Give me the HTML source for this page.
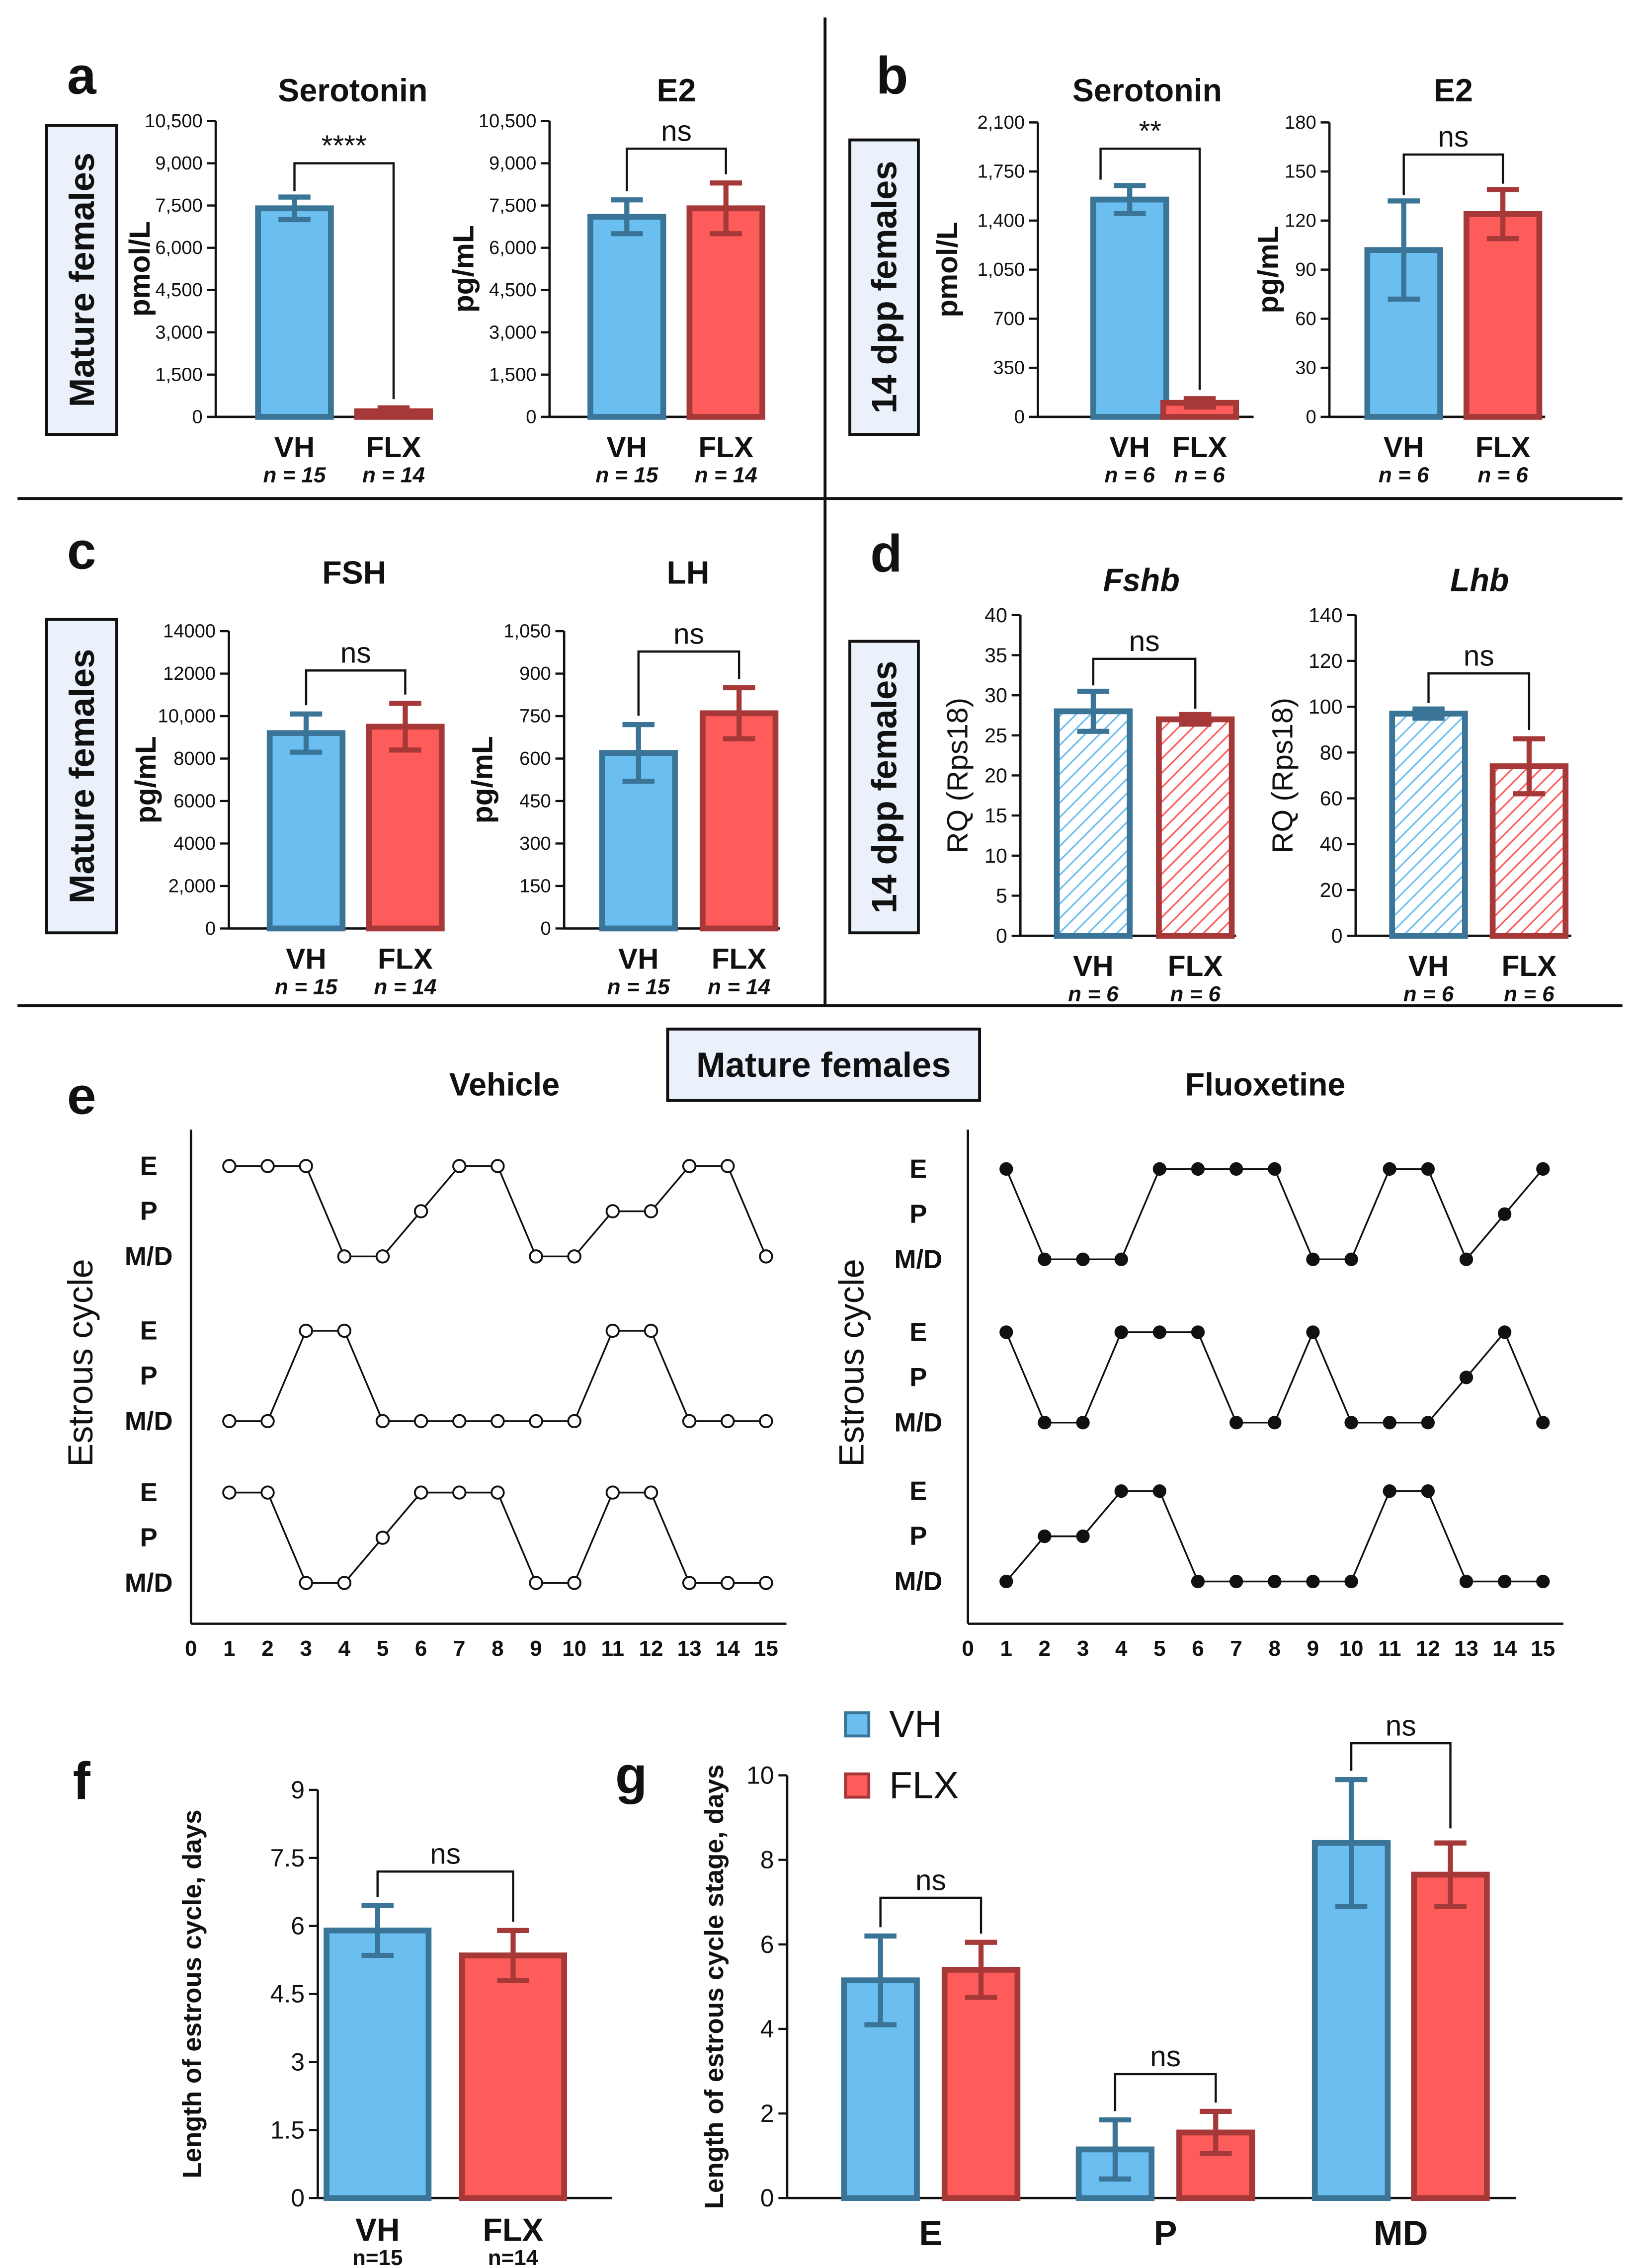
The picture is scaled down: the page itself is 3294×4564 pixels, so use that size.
<!DOCTYPE html>
<html><head><meta charset="utf-8"><style>
html,body{margin:0;padding:0;background:#fff}
svg{display:block}
text{font-family:"Liberation Sans",sans-serif}
</style></head><body>
<svg id="fig" width="3294" height="4564" viewBox="0 0 1123 1556" xmlns="http://www.w3.org/2000/svg">
<defs>
<pattern id="hatchB" patternUnits="userSpaceOnUse" width="7" height="7" patternTransform="rotate(45)"><rect width="7" height="7" fill="#fff"/><line x1="0" y1="0" x2="0" y2="7" stroke="#6bbff0" stroke-width="2.2"/></pattern>
<pattern id="hatchR" patternUnits="userSpaceOnUse" width="7" height="7" patternTransform="rotate(45)"><rect width="7" height="7" fill="#fff"/><line x1="0" y1="0" x2="0" y2="7" stroke="#fe5b5b" stroke-width="2.2"/></pattern>
</defs>
<g id="root"></g>
</svg>
<script>
// ---- data ----
const groups2 = ["VH","FLX"];
const serotoninA = [7400, 200];   const serotoninAErr = [400, 120];
const e2A = [7100, 7400];         const e2AErr = [600, 900];
const serotoninB = [1550, 100];   const serotoninBErr = [100, 30];
const e2B = [102, 124];           const e2BErr = [30, 15];
const fsh = [9200, 9500];         const fshErr = [900, 1100];
const lh = [620, 760];            const lhErr = [100, 90];
const fshb = [28, 27];            const fshbErr = [2.5, 0.6];
const lhb = [97, 74];             const lhbErr = [2, 12];
const cycleLen = [5.9, 5.35];     const cycleLenErr = [0.55, 0.55];
const stageCats = ["E","P","MD"];
const stageVH = [5.15, 1.15, 8.4];   const stageVHErr = [1.05, 0.7, 1.5];
const stageFLX = [5.4, 1.55, 7.65];  const stageFLXErr = [0.65, 0.5, 0.75];
const ticksA = ["0","1,500","3,000","4,500","6,000","7,500","9,000","10,500"];
const ticksBS = ["0","350","700","1,050","1,400","1,750","2,100"];
const ticksBE = ["0","30","60","90","120","150","180"];
const ticksFSH = ["0","2,000","4000","6000","8000","10,000","12000","14000"];
const ticksLH = ["0","150","300","450","600","750","900","1,050"];
const ticksFshb = ["0","5","10","15","20","25","30","35","40"];
const ticksLhb = ["0","20","40","60","80","100","120","140"];
const ticksF = ["0","1.5","3","4.5","6","7.5","9"];
const ticksG = ["0","2","4","6","8","10"];
const days = [1,2,3,4,5,6,7,8,9,10,11,12,13,14,15];
const stageNames = ["M/D","P","E"]; // stage index 0,1,2
const veh1 = [2,2,2,0,0,1,2,2,0,0,1,1,2,2,0];
const veh2 = [0,0,2,2,0,0,0,0,0,0,2,2,0,0,0];
const veh3 = [2,2,0,0,1,2,2,2,0,0,2,2,0,0,0];
const flx1 = [2,0,0,0,2,2,2,2,0,0,2,2,0,1,2];
const flx2 = [2,0,0,2,2,2,0,0,2,0,0,0,1,2,0];
const flx3 = [0,1,1,2,2,0,0,0,0,0,2,2,0,0,0];

// ---- helpers ----
const NS="http://www.w3.org/2000/svg";
const root=document.getElementById('root');
function el(tag,attrs,parent){const e=document.createElementNS(NS,tag);for(const k in attrs)e.setAttribute(k,attrs[k]);(parent||root).appendChild(e);return e;}
function txt(x,y,s,size,opts,parent){opts=opts||{};const t=el('text',{x:x,y:y,'font-size':size,'text-anchor':opts.anchor||'middle','font-weight':opts.weight||'bold','font-style':opts.style||'normal',fill:'#111','dominant-baseline':'central'},parent);if(opts.rot)t.setAttribute('transform','rotate(-90 '+x+' '+y+')');t.textContent=s;return t;}
const BLUE='#6bbff0',BLUED='#3a7597',RED='#fe5b5b',REDD='#a63838';

function chart(cfg){
  const g=el('g',{});
  
  
  const n=cfg.ticks.length-1;
  const ys=v=>cfg.yBot-(v/cfg.max)*(cfg.yBot-cfg.yTop);
  const ax=el('line',{x1:cfg.ax,y1:cfg.yTop,x2:cfg.ax,y2:cfg.yBot,stroke:'#111','stroke-width':1.6},g);
  
  
  const xa=el('line',{x1:cfg.ax,y1:cfg.yBot,x2:cfg.xEnd,y2:cfg.yBot,stroke:'#111','stroke-width':1.6},g);
  
  
  cfg.ticks.forEach((t,i)=>{const v=cfg.max*i/n;const y=ys(v);
    el('line',{x1:cfg.ax-6,y1:y,x2:cfg.ax,y2:y,stroke:'#111','stroke-width':1.5},g);
    const tl=txt(cfg.ax-9,y,t,cfg.tickSize||14,{anchor:'end',weight:'normal'},g);
    
    });
  if(cfg.ylabel){const yl=txt(cfg.ylx,(cfg.yTop+cfg.yBot)/2,cfg.ylabel,cfg.ylSize||20,{rot:1,weight:cfg.ylWeight||'bold'},g);
    
    }
  if(cfg.title){const tt=txt(cfg.titleX,cfg.titleY,cfg.title,22,{style:cfg.titleStyle||'normal'},g);
    
    }
  const tops=[];
  cfg.bars.forEach(b=>{
    const y=ys(b.val);const w=cfg.bw;
    const fill=cfg.hatch?(b.red?'url(#hatchR)':'url(#hatchB)'):(b.red?RED:BLUE);
    const r=el('rect',{x:b.cx-w/2,y:y,width:w,height:cfg.yBot-y,fill:fill,stroke:b.red?REDD:BLUED,'stroke-width':4},g);
    
    
    const y1=ys(b.val+b.err),y2=ys(Math.max(0,b.val-b.err));
    const c=b.red?REDD:BLUED;
    el('line',{x1:b.cx,y1:y1,x2:b.cx,y2:y2,stroke:c,'stroke-width':3.5},g);
    el('line',{x1:b.cx-11,y1:y1,x2:b.cx+11,y2:y1,stroke:c,'stroke-width':3.5},g);
    el('line',{x1:b.cx-11,y1:y2,x2:b.cx+11,y2:y2,stroke:c,'stroke-width':3.5},g);
    tops.push(y1);
    if(b.xl){const xl=txt(b.cx,cfg.xlY,b.xl,cfg.xlSize||20,{},g);
      
      }
    if(b.nl){const nl=txt(b.cx,cfg.xlY+19,b.nl,15,{style:cfg.nItalic===false?'normal':'italic'},g);
      
      }
  });
  return {g,ys,tops};
}
function bracket(x1,yb1,x2,yb2,yt,label,sz){
  const p=el('path',{d:`M${x1} ${yb1} L${x1} ${yt} L${x2} ${yt} L${x2} ${yb2}`,fill:'none',stroke:'#111','stroke-width':1.5});
  
  
  const t=txt((x1+x2)/2,yt-12,label,sz||20,{weight:'normal'});
  
  
}
function boxLabel(x,y,w,h,s,rot,name){
  const r=el('rect',{x:x,y:y,width:w,height:h,fill:'#eaf1fb',stroke:'#111','stroke-width':2});
  
  
  const t=txt(x+w/2,y+h/2,s,24,{rot:rot});
  
  
}
function letter(x,y,s){const t=txt(x,y,s,36,{});}
function twoBars(vals,errs,c1,c2,n1,n2){return [{cx:c1,val:vals[0],err:errs[0],red:false,label:'vh',xl:groups2[0],nl:n1},{cx:c2,val:vals[1],err:errs[1],red:true,label:'flx',xl:groups2[1],nl:n2}];}

// dividers
[[566,12,566,690],[12,342,1113,342],[12,690,1113,690]].forEach(l=>{const d=el('line',{x1:l[0],y1:l[1],x2:l[2],y2:l[3],stroke:'#111','stroke-width':2});});

// panel a
letter(56,52,'a'); boxLabel(32,86,48,212,'Mature  females',1,'group-box-mature-a');
let c=chart({name:'chart-a-serotonin',ax:148,yTop:83,yBot:286,xEnd:296,max:10500,ticks:ticksA,tickSize:13,ylabel:'pmol/L',ylx:96,title:'Serotonin',titleX:242,titleY:62,bw:50,xlY:307,bars:twoBars(serotoninA,serotoninAErr,202,270,'n = 15','n = 14')});
bracket(202,c.tops[0]-4,270,c.tops[1]-6,112,'****');
c=chart({name:'chart-a-e2',ax:377,yTop:83,yBot:286,xEnd:525,max:10500,ticks:ticksA,tickSize:13,ylabel:'pg/mL',ylx:318,title:'E2',titleX:464,titleY:62,bw:50,xlY:307,bars:twoBars(e2A,e2AErr,430,498,'n = 15','n = 14')});
bracket(430,c.tops[0]-6,498,c.tops[1]-6,102,'ns');

// panel b
letter(612,52,'b'); boxLabel(583,96,47,202,'14 dpp females',1,'group-box-14dpp-b');
c=chart({name:'chart-b-serotonin',ax:712,yTop:84,yBot:286,xEnd:860,max:2100,ticks:ticksBS,tickSize:13,ylabel:'pmol/L',ylx:650,title:'Serotonin',titleX:787,titleY:62,bw:50,xlY:307,bars:twoBars(serotoninB,serotoninBErr,775,823,'n = 6','n = 6')});
bracket(755,c.tops[0]-4,823,c.tops[1]-6,102,'**');
c=chart({name:'chart-b-e2',ax:912,yTop:84,yBot:286,xEnd:1060,max:180,ticks:ticksBE,tickSize:13,ylabel:'pg/mL',ylx:870,title:'E2',titleX:997,titleY:62,bw:50,xlY:307,bars:twoBars(e2B,e2BErr,963,1031,'n = 6','n = 6')});
bracket(963,c.tops[0]-4,1031,c.tops[1]-4,106,'ns');

// panel c
letter(56,378,'c'); boxLabel(32,425,48,215,'Mature  females',1,'group-box-mature-c');
c=chart({name:'chart-c-fsh',ax:157,yTop:433,yBot:637,xEnd:305,max:14000,ticks:ticksFSH,tickSize:13,ylabel:'pg/mL',ylx:100,title:'FSH',titleX:243,titleY:393,bw:50,xlY:658,bars:twoBars(fsh,fshErr,210,278,'n = 15','n = 14')});
bracket(210,c.tops[0]-6,278,c.tops[1]-6,460,'ns');
c=chart({name:'chart-c-lh',ax:387,yTop:433,yBot:637,xEnd:535,max:1050,ticks:ticksLH,tickSize:13,ylabel:'pg/mL',ylx:331,title:'LH',titleX:472,titleY:393,bw:50,xlY:658,bars:twoBars(lh,lhErr,438,507,'n = 15','n = 14')});
bracket(438,c.tops[0]-6,507,c.tops[1]-6,447,'ns');

// panel d
letter(608,380,'d'); boxLabel(583,440,47,200,'14 dpp females',1,'group-box-14dpp-d');
c=chart({name:'chart-d-fshb',ax:700,yTop:422,yBot:642,xEnd:848,max:40,ticks:ticksFshb,ylabel:'RQ (Rps18)',ylWeight:'normal',ylx:657,title:'Fshb',titleStyle:'italic',titleX:783,titleY:398,bw:50,hatch:true,xlY:663,bars:twoBars(fshb,fshbErr,750,820,'n = 6','n = 6')});
bracket(750,c.tops[0]-4,820,c.tops[1]-4,452,'ns');
c=chart({name:'chart-d-lhb',ax:930,yTop:422,yBot:642,xEnd:1078,max:140,ticks:ticksLhb,ylabel:'RQ (Rps18)',ylWeight:'normal',ylx:880,title:'Lhb',titleStyle:'italic',titleX:1015,titleY:398,bw:50,hatch:true,xlY:663,bars:twoBars(lhb,lhbErr,980,1049,'n = 6','n = 6')});
bracket(980,c.tops[0]-4,1049,c.tops[1]-6,462,'ns');

// panel e
letter(56,752,'e'); boxLabel(458,706,214,49,'Mature  females',0,'group-box-mature-e');
function estrous(name,ax,title,titleX,rowYs,rows,filled,lblX,ylX){
  const g=el('g',{});
  
  
  const dx=26.3;const xs=d=>ax+d*dx;
  el('line',{x1:ax,y1:775,x2:ax,y2:1114,stroke:'#111','stroke-width':1.6},g);
  el('line',{x1:ax,y1:1114,x2:xs(15)+14,y2:1114,stroke:'#111','stroke-width':1.6},g);
  [0].concat(days).forEach(d=>{const t=txt(xs(d),1131,String(d),15,{},g);
    
    });
  const tt=txt(titleX,744,title,22,{},g);
  
  
  const yl=txt(ylX,935,'Estrous cycle',24,{rot:1,weight:'normal'},g);
  
  
  rows.forEach((row,ri)=>{
    const base=rowYs[ri];const ys=s=>base-s*31;
    stageNames.forEach((s,si)=>{const t=txt(lblX,ys(si),s,18,{anchor:'middle'},g);
      
      });
    const d=row.map((s,i)=>(i?'L':'M')+xs(days[i])+' '+ys(s)).join(' ');
    const p=el('path',{d:d,fill:'none',stroke:'#111','stroke-width':1.2},g);
    
    
    row.forEach((s,i)=>{const m=el('circle',{cx:xs(days[i]),cy:ys(s),r:filled?4:4.2,fill:filled?'#111':'#fff',stroke:'#111','stroke-width':1.3},g);
      
      });
  });
}
estrous('chart-e-vehicle',131,'Vehicle',346,[862,975,1086],[veh1,veh2,veh3],false,102,55);
estrous('chart-e-fluoxetine',664,'Fluoxetine',868,[864,976,1085],[flx1,flx2,flx3],true,630,584);

// panel f
letter(56,1222,'f');
c=chart({name:'chart-f-cycle-length',ax:218,yTop:1228,yBot:1508,xEnd:420,max:9,ticks:ticksF,tickSize:17,ylabel:'Length of estrous cycle, days',ylSize:18,ylx:132,bw:70,xlY:1530,xlSize:22,nItalic:false,bars:twoBars(cycleLen,cycleLenErr,259,352,'n=15','n=14')});
bracket(259,c.tops[0]-6,352,c.tops[1]-6,1284,'ns');

// panel g
letter(433,1218,'g');
const gb=[];const gx=[[604,673],[765,834],[927,995]];
stageCats.forEach((s,i)=>{gb.push({cx:gx[i][0],val:stageVH[i],err:stageVHErr[i],red:false,label:'vh-'+s});gb.push({cx:gx[i][1],val:stageFLX[i],err:stageFLXErr[i],red:true,label:'flx-'+s});});
c=chart({name:'chart-g-stage-length',ax:540,yTop:1218,yBot:1508,xEnd:1040,max:10,ticks:ticksG,tickSize:17,ylabel:'Length of estrous cycle stage, days',ylSize:18,ylx:490,bw:50,xlY:1532,bars:gb});
stageCats.forEach((s,i)=>{const t=txt((gx[i][0]+gx[i][1])/2,1532,s,24,{});
  
  });
bracket(604,c.tops[0]-6,673,c.tops[1]-6,1302,'ns');
bracket(765,c.tops[2]-6,834,c.tops[3]-6,1423,'ns');
bracket(927,c.tops[4]-6,995,c.tops[5]-10,1196,'ns');
[['VH',BLUE,BLUED,1183],['FLX',RED,REDD,1225]].forEach(l=>{
  const r=el('rect',{x:580,y:l[3]-8,width:16,height:16,fill:l[1],stroke:l[2],'stroke-width':2});
  
  
  const t=txt(610,l[3],l[0],26,{anchor:'start',weight:'normal'});
  
  
});
</script>
</body></html>
